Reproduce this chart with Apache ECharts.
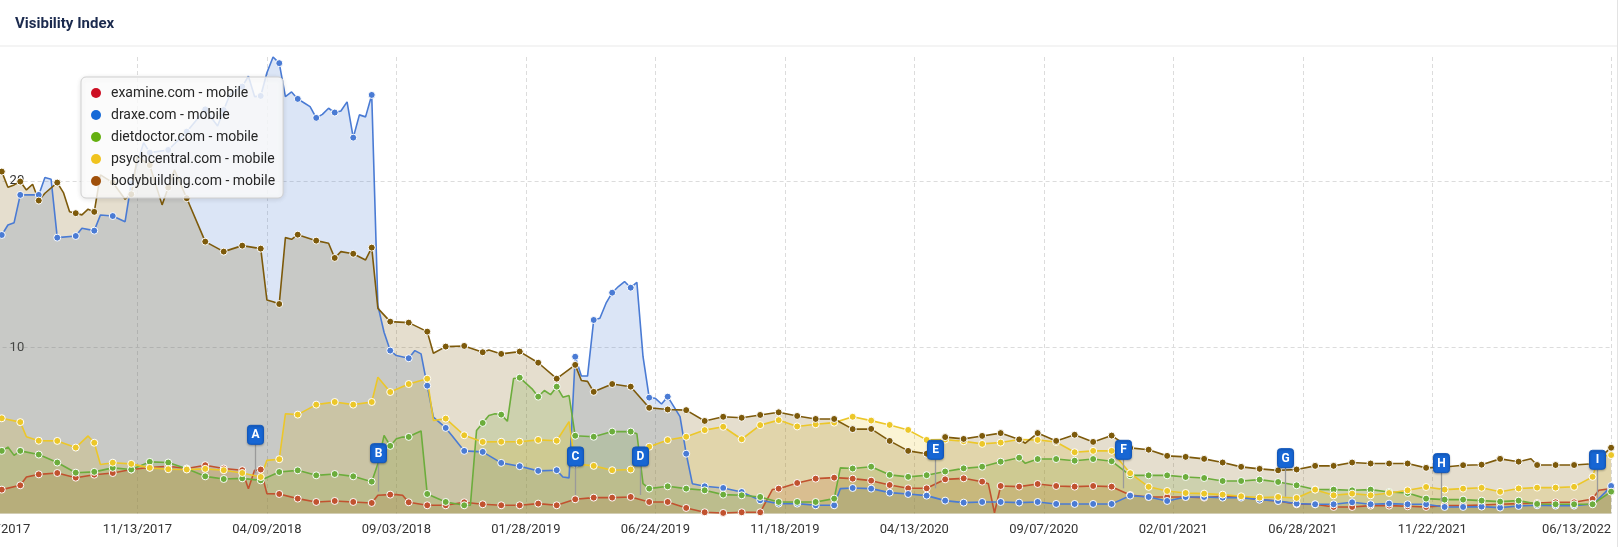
<!DOCTYPE html>
<html><head><meta charset="utf-8">
<script src="https://cdn.jsdelivr.net/npm/echarts@6.0.0/dist/echarts.min.js"></script>
<style>html,body{margin:0;padding:0;background:#fff;overflow:hidden}#c{width:1619px;height:547px}</style>
</head><body><div id="c"></div>
<script>
// ---------- DATA ----------
const seriesNames = ['examine.com - mobile','draxe.com - mobile','dietdoctor.com - mobile','psychcentral.com - mobile','bodybuilding.com - mobile'];
const tickLabels = ['06/05/2017','11/13/2017','04/09/2018','09/03/2018','01/28/2019','06/24/2019','11/18/2019','04/13/2020','09/07/2020','02/01/2021','06/28/2021','11/22/2021','06/13/2022'];
const firstWeek = '06/05/2017';
const weekCount = 263;

// values at the marked points (every third week, starting 06/12/2017)
const examineDots = [1.44,1.70,2.36,2.44,2.16,2.34,2.44,2.65,2.77,2.85,
 2.71,2.91,2.71,2.61,2.65,1.18,0.90,0.70,0.76,0.70,
 0.64,1.14,0.68,0.50,0.50,0.68,0.56,0.50,0.50,0.60,
 0.50,0.86,0.96,0.96,1.00,0.70,0.70,0.34,0.08,0.04,
 0.08,0.08,1.50,1.84,2.10,2.16,2.10,1.98,1.72,1.52,
 1.52,2.06,2.12,1.92,1.66,1.62,1.78,1.66,1.62,1.66,
 1.62,1.12,1.00,1.00,1.00,0.96,1.04,1.00,0.84,0.76,
 0.56,0.56,0.40,0.40,0.48,0.48,0.44,0.40,0.48,0.48,
 0.52,0.56,0.60,0.64,0.68,0.68,0.88,1.50];
const draxeDots = [16.75,19.16,19.16,16.59,16.69,17.01,17.89,19.86,21.7,21.86,
 22.96,24.3,24.26,25.67,25.11,27.08,24.93,23.79,24.11,22.6,
 25.17,9.8,9.34,7.69,5.15,3.77,3.71,3.05,2.85,2.57,
 2.61,9.43,11.64,13.28,13.58,6.97,7.03,3.6,1.64,1.54,
 1.30,0.80,0.60,0.60,0.50,0.50,1.54,1.50,1.26,1.18,
 1.08,0.78,0.66,0.70,0.70,0.66,0.70,0.58,0.58,0.58,
 0.58,1.08,1.00,0.76,1.00,1.00,0.96,0.96,0.84,0.76,
 0.60,0.56,0.56,0.68,0.56,0.60,0.56,0.56,0.40,0.40,
 0.42,0.36,0.46,0.50,0.48,0.48,0.58,1.66];
const dietdoctorDots = [3.77,3.77,3.55,3.07,2.46,2.51,2.75,2.65,3.11,3.07,
 2.70,2.24,2.08,2.12,2.00,2.50,2.60,2.30,2.38,2.24,
 1.92,4.07,4.61,1.18,0.70,0.50,5.45,5.95,8.17,7.03,
 7.63,4.68,4.62,4.93,4.93,1.50,1.64,1.50,1.40,1.14,
 1.10,1.00,0.70,0.70,0.70,0.90,2.71,2.82,2.33,2.21,
 2.31,2.53,2.72,2.82,3.12,3.36,3.28,3.28,3.18,3.28,
 3.15,2.30,2.30,2.30,2.20,2.14,1.96,1.96,2.04,1.90,
 1.70,1.45,1.44,1.40,1.44,1.30,1.24,0.90,0.84,0.84,
 0.78,0.72,0.78,0.58,0.56,0.56,0.56,1.32];
const psychcentralDots = [5.73,5.50,4.38,4.37,3.97,4.26,3.06,2.99,2.75,2.67,
 2.65,2.69,2.61,2.44,2.20,3.27,5.95,6.55,6.71,6.55,
 6.71,7.31,7.79,8.11,5.71,4.71,4.31,4.32,4.32,4.43,
 4.38,3.0,2.87,2.61,2.65,4.02,4.42,4.62,5.02,5.22,
 4.47,5.32,5.62,5.24,5.37,5.47,5.82,5.59,5.33,5.03,
 4.43,4.45,4.35,4.19,4.27,4.45,4.43,4.3,3.69,3.77,
 3.77,2.43,1.61,1.36,1.24,1.20,1.14,1.04,0.96,1.00,
 0.94,1.44,1.10,1.20,1.10,1.24,1.40,1.60,1.44,1.50,
 1.55,1.31,1.51,1.56,1.56,1.61,2.21,3.52];
const bodybuildingDots = [20.56,19.96,18.82,19.90,18.06,18.14,19.9,19.2,20.95,19.6,
 18.96,16.35,15.75,16.11,15.93,12.6,16.77,16.41,15.37,15.62,
 15.99,11.54,11.48,10.94,10.04,10.08,9.70,9.6,9.74,9.07,
 8.11,8.94,7.32,7.79,7.63,6.36,6.26,6.22,5.57,5.82,
 5.76,5.93,6.09,5.87,5.69,5.69,5.08,5.09,4.37,3.77,
 3.6,4.60,4.49,4.67,4.84,4.46,4.84,4.37,4.74,4.31,
 4.69,3.95,3.84,3.47,3.41,3.29,3.07,2.81,2.69,2.6,
 2.65,2.87,2.87,3.07,3.01,3.01,3.01,2.75,2.8,2.91,
 2.94,3.29,3.12,2.92,2.92,2.92,3.0,3.96];

// unmarked weeks: [weeks after 06/12/2017, value]
const examineExtra = [[4,2.2],[40,1.5],[41,2.6],[43,1.2],[61,1.1],[64,1.14],[65,1.1],[125,1.45],[160,1.8],[161,0.05],[259,1.4]];
const draxeExtra = [[1,17.35],[2,17.49],[7,20.2],[8,20.1],[13,17.15],[16,17.95],[20,17.55],[23,22.3],[35,23.3],[37,25.2],[40,26.3],[41,25.07],[43,26.5],[44,27.45],[46,25.07],[47,25.35],[49,24.7],[50,24.47],[52,24.0],[53,24.37],[55,24.2],[56,24.75],[58,23.97],[59,23.85],[61,12.5],[62,10.9],[64,9.5],[67,9.8],[68,9.6],[70,5.8],[73,4.7],[91,2.2],[92,2.15],[94,8.27],[95,8.27],[97,11.74],[98,12.65],[100,13.65],[101,13.95],[103,13.9],[104,9.43],[106,6.93],[107,6.59],[109,6.43],[110,5.83],[112,1.8],[136,1.5],[259,0.9],[260,1.26]];
const dietdoctorExtra = [[1,4.0],[2,3.5],[61,3.0],[62,4.7],[64,4.5],[65,4.6],[67,4.8],[68,4.97],[76,0.5],[77,5.0],[79,5.9],[80,6.0],[82,5.55],[83,8.12],[86,7.5],[88,7.4],[89,7.15],[91,7.0],[92,7.1],[103,4.8],[104,1.8],[136,2.75],[166,3.02]];
const psychcentralExtra = [[4,4.62],[14,4.67],[16,2.95],[43,3.2],[46,6.0],[61,8.2],[70,5.6],[92,5.53],[259,3.4]];
const bodybuildingExtra = [[1,19.62],[2,19.76],[4,19.46],[5,19.8],[7,19.26],[10,19.3],[11,18.15],[13,17.96],[14,18.3],[16,20.36],[20,18.9],[22,21.46],[26,18.56],[28,20.66],[43,12.84],[44,12.74],[46,16.59],[47,16.49],[53,16.25],[55,15.75],[59,15.25],[61,12.34],[70,9.64],[79,9.84],[94,8.0],[95,7.95],[166,4.23],[248,3.3]];
// first week (06/05/2017), at the clipped left edge (estimated)
const edgeValues = [1.4, 16.3, 3.8, 5.7, 20.4];

// event flags
const flagLetters = ['A','B','C','D','E','F','G','H','I'];
const flagDates = ['03/26/2018','08/13/2018','03/25/2019','06/07/2019','05/07/2020','12/06/2020','06/08/2021','12/02/2021','05/28/2022'];
const flagValues = [2.42,1.32,1.12,1.12,1.52,1.52,1.02,0.72,0.92];

// ---------- STYLE ----------
const lineColors = ['#c1522f','#4a7bd4','#6cad3c','#ecc729','#7d5a0b'];
const legendColors = ['#cd0f23','#1469d7','#64af0f','#f0c31e','#a0500a'];
const FONT = 'Roboto';
const LABEL_MARGIN = 10;

// ---------- BUILD ----------
const DAY = 86400000;
function parseDate(s){ const p = s.split('/'); return Date.UTC(+p[2], +p[0]-1, +p[1]); }
function pad(n){ return (n<10?'0':'')+n; }
function fmt(t){ const d = new Date(t); return pad(d.getUTCMonth()+1)+'/'+pad(d.getUTCDate())+'/'+d.getUTCFullYear(); }
const start = parseDate(firstWeek);
const weeks = Array.from({length: weekCount}, (_, i) => fmt(start + i*7*DAY));
const tickSet = new Set(tickLabels);
const lastLabel = tickLabels[tickLabels.length-1];

function buildWeekly(dots, extra, edge){
  const arr = new Array(weekCount).fill(null);
  arr[0] = edge;
  dots.forEach((v, k) => { arr[3*k + 1] = v; });
  extra.forEach(([w, v]) => { arr[w + 1] = v; });
  return arr;
}
const weekly = [
  buildWeekly(examineDots, examineExtra, edgeValues[0]),
  buildWeekly(draxeDots, draxeExtra, edgeValues[1]),
  buildWeekly(dietdoctorDots, dietdoctorExtra, edgeValues[2]),
  buildWeekly(psychcentralDots, psychcentralExtra, edgeValues[3]),
  buildWeekly(bodybuildingDots, bodybuildingExtra, edgeValues[4])
];

const areaSeries = seriesNames.map((n, s) => ({
  type: 'line', name: n, data: weekly[s], connectNulls: true, symbol: 'none',
  lineStyle: {width: 0}, areaStyle: {color: lineColors[s], opacity: 0.2},
  z: 1, silent: true, clip: false
}));
const lineSeries = seriesNames.map((n, s) => ({
  type: 'line', name: n, data: weekly[s], connectNulls: true, showAllSymbol: true,
  symbol: 'circle', symbolSize: (v, p) => (p.dataIndex % 3 === 1 ? 7 : 0),
  itemStyle: {color: lineColors[s], borderColor: '#fff', borderWidth: 1},
  lineStyle: {color: lineColors[s], width: 1.6},
  z: 2, silent: true, clip: false
}));

const flagData = flagDates.map((d, j) => {
  const f = (parseDate(d) - start) / (7*DAY);
  const b = Math.floor(f);
  return [b, flagValues[j], f - b];
});
const flagSeries = {
  type: 'custom', name: 'flags', data: flagData, encode: {x: 0, y: 1},
  z: 5, silent: true, clip: false,
  renderItem: function(params, api){
    const b = api.value(0), v = api.value(1), fr = api.value(2);
    const p0 = api.coord([b, v]);
    const p1 = api.coord([b + 1, v]);
    const x = Math.round(p0[0] + fr*(p1[0]-p0[0])) + 0.5;
    const yEnd = p0[1];
    const bottom = yEnd - 29, h = 19, w = 16, top = bottom - h;
    return {type: 'group', children: [
      {type: 'line', shape: {x1: x, y1: bottom, x2: x, y2: yEnd}, style: {stroke: '#9a9a9a', lineWidth: 1.3}},
      {type: 'rect', shape: {x: x - w/2, y: top, width: w, height: h, r: 3},
       style: {fill: '#1766d4', stroke: '#1257bb', lineWidth: 1, shadowBlur: 2, shadowColor: 'rgba(0,0,0,0.25)', shadowOffsetY: 1}},
      {type: 'text', x: x, y: top + h/2 + 0.5,
       style: {text: flagLetters[params.dataIndex], fill: '#fff', font: 'bold 12px ' + FONT, align: 'center', verticalAlign: 'middle'}}
    ]};
  }
};

const baseGraphic = [
  {id: 'hdrline', type: 'rect', shape: {x: 0, y: 45.5, width: 1617, height: 1}, style: {fill: '#e9e9e9'}, silent: true},
  {id: 'border', type: 'rect', shape: {x: 1617, y: 0, width: 1, height: 547}, style: {fill: '#e3e3e3'}, silent: true},
  {id: 'title', type: 'text', x: 15, y: 24, silent: true,
   style: {text: 'Visibility Index', font: 'bold 15px ' + FONT, fill: '#1b2a4e', verticalAlign: 'middle'}}
];

const chart = echarts.init(document.getElementById('c'), null, {renderer: 'canvas'});
chart.setOption({
  animation: false,
  backgroundColor: '#fff',
  textStyle: {fontFamily: FONT},
  graphic: baseGraphic,
  grid: {left: -4.4, right: 7.9, top: 57, bottom: 33.4, containLabel: false, outerBoundsMode: 'none'},
  legend: {
    data: seriesNames.map((n, s) => ({name: n, itemStyle: {color: legendColors[s], borderWidth: 0}})),
    icon: 'circle', orient: 'vertical', left: 81, top: 77,
    itemWidth: 20, itemHeight: 10, itemGap: 8, padding: [9, 8, 10, 10],
    itemStyle: {borderWidth: 0},
    backgroundColor: 'rgba(255,255,255,0.82)', borderColor: '#d0d0d0', borderWidth: 1, borderRadius: 5,
    shadowBlur: 5, shadowColor: 'rgba(0,0,0,0.12)', shadowOffsetY: 1,
    textStyle: {color: '#262626', fontSize: 14, fontFamily: FONT},
    selectedMode: false, z: 6
  },
  xAxis: {
    type: 'category', data: weeks, boundaryGap: false,
    axisLine: {show: false}, axisTick: {show: false},
    axisLabel: {
      interval: (i, v) => tickSet.has(v) && v !== lastLabel, margin: LABEL_MARGIN,
      color: '#333', fontSize: 13, fontFamily: FONT
    },
    splitLine: {show: true, interval: (i, v) => tickSet.has(v), lineStyle: {color: '#dcdcdc', width: 1, type: [4, 3]}}
  },
  yAxis: {
    type: 'value', min: 0, max: 27.45, interval: 10,
    axisLine: {show: false}, axisTick: {show: false},
    axisLabel: {inside: true, margin: 14, color: '#333', fontSize: 13, fontFamily: FONT, showMinLabel: false, showMaxLabel: false},
    splitLine: {show: true, showMinLine: false, showMaxLine: false, lineStyle: {color: '#dcdcdc', width: 1, type: [4, 3]}}
  },
  series: [...areaSeries, ...lineSeries, flagSeries]
});

// last tick label: right-aligned at its tick (as in the reference), positioned through the axis scale
const lastPt = chart.convertToPixel({xAxisIndex: 0, yAxisIndex: 0}, [lastLabel, 0]);
chart.setOption({graphic: baseGraphic.concat([
  {id: 'lastlbl', type: 'text', x: lastPt[0], y: lastPt[1] + LABEL_MARGIN, silent: true,
   style: {text: lastLabel, font: '13px ' + FONT, fill: '#333', align: 'right', verticalAlign: 'top'}}
])});
</script></body></html>
